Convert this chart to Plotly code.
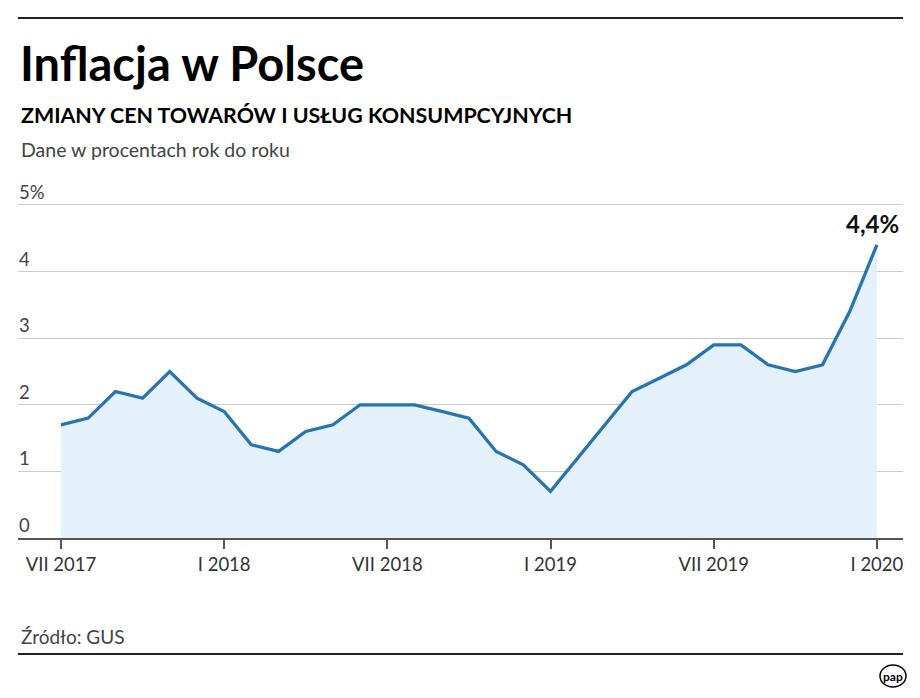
import plotly.graph_objects as go

months = ["VII 2017", "VIII 2017", "IX 2017", "X 2017", "XI 2017", "XII 2017",
          "I 2018", "II 2018", "III 2018", "IV 2018", "V 2018", "VI 2018",
          "VII 2018", "VIII 2018", "IX 2018", "X 2018", "XI 2018", "XII 2018",
          "I 2019", "II 2019", "III 2019", "IV 2019", "V 2019", "VI 2019",
          "VII 2019", "VIII 2019", "IX 2019", "X 2019", "XI 2019", "XII 2019",
          "I 2020"]
inflation = [1.7, 1.8, 2.2, 2.1, 2.5, 2.1,
             1.9, 1.4, 1.3, 1.6, 1.7, 2.0,
             2.0, 2.0, 1.9, 1.8, 1.3, 1.1,
             0.7, 1.2, 1.7, 2.2, 2.4, 2.6,
             2.9, 2.9, 2.6, 2.5, 2.6, 3.4,
             4.4]
x_tick_labels = ["VII 2017", "I 2018", "VII 2018", "I 2019", "VII 2019", "I 2020"]
y_ticks = [0, 1, 2, 3, 4, 5]
y_tick_labels = ["0", "1", "2", "3", "4", "5%"]

FONT = "Lato"
W, H = 920, 698
ML, MR, MT, MB = 18, 17, 190, 160
x_idx = list(range(len(months)))
tick_idx = [months.index(m) for m in x_tick_labels]


def px_x(px):
    return (px - ML) / (W - ML - MR)


def px_y(py):
    return ((H - py) - MB) / (H - MT - MB)


fig = go.Figure()
fig.add_trace(go.Scatter(
    x=x_idx, y=inflation, mode="lines",
    line=dict(color="#2874ae", width=3.3),
    fill="tozeroy", fillcolor="#e4f0fa",
    hoverinfo="skip", showlegend=False,
))

fig.update_layout(
    width=W, height=H,
    margin=dict(l=ML, r=MR, t=MT, b=MB),
    paper_bgcolor="white", plot_bgcolor="white",
    font=dict(family=FONT, color="#333"),
    showlegend=False,
)
fig.update_xaxes(
    range=[-1.58, 30.96],
    tickvals=tick_idx, ticktext=x_tick_labels,
    ticks="outside", ticklen=9, tickwidth=1.5, tickcolor="#555",
    showline=True, linecolor="#555", linewidth=1.5,
    showgrid=False, zeroline=False,
    tickfont=dict(family=FONT, size=18.5, color="#333"),
)
fig.update_yaxes(
    range=[0, 5.225],
    tickvals=y_ticks, showticklabels=False,
    showgrid=True, gridcolor="#cccccc", gridwidth=1,
    zeroline=False, showline=False,
)

# y tick labels above gridlines
for v, lab in zip(y_ticks, y_tick_labels):
    fig.add_annotation(x=0, xref="paper", y=v, yref="y", text=lab,
                       showarrow=False, xanchor="left", yanchor="bottom",
                       xshift=-1, yshift=0,
                       font=dict(family=FONT, size=18.5, color="#444"))

# last value label
fig.add_annotation(x=x_idx[-1], xref="x", y=inflation[-1], yref="y", text="<b>4,4%</b>",
                   showarrow=False, xanchor="center", yanchor="bottom", yshift=5, xshift=-4,
                   font=dict(family=FONT, size=24, color="#111"))


def pix_text(px, py, text, size, color="#000", xanchor="left"):
    fig.add_annotation(x=px_x(px), y=px_y(py), xref="paper", yref="paper", text=text,
                       showarrow=False, xanchor=xanchor, yanchor="middle",
                       font=dict(family=FONT, size=size, color=color))


pix_text(18, 63, "<b>Inflacja w Polsce</b>", 47)
pix_text(19, 115, "<b>ZMIANY CEN TOWARÓW I USŁUG KONSUMPCYJNYCH</b>", 21.4)
pix_text(19, 149, "Dane w procentach rok do roku", 19.5, "#444")
pix_text(19, 636, "Źródło: GUS", 19, "#444")
pix_text(893, 676, "<b>pap</b>", 12, "#000", "center")

fig.add_shape(type="line", xref="paper", yref="paper",
              x0=px_x(18), x1=px_x(903), y0=px_y(18), y1=px_y(18),
              line=dict(color="#222", width=2))
fig.add_shape(type="line", xref="paper", yref="paper",
              x0=px_x(18), x1=px_x(903), y0=px_y(654), y1=px_y(654),
              line=dict(color="#222", width=2))
fig.add_shape(type="circle", xref="paper", yref="paper",
              x0=px_x(880), x1=px_x(906), y0=px_y(665), y1=px_y(687),
              line=dict(color="#000", width=1.5))

fig.write_html("out.html")
